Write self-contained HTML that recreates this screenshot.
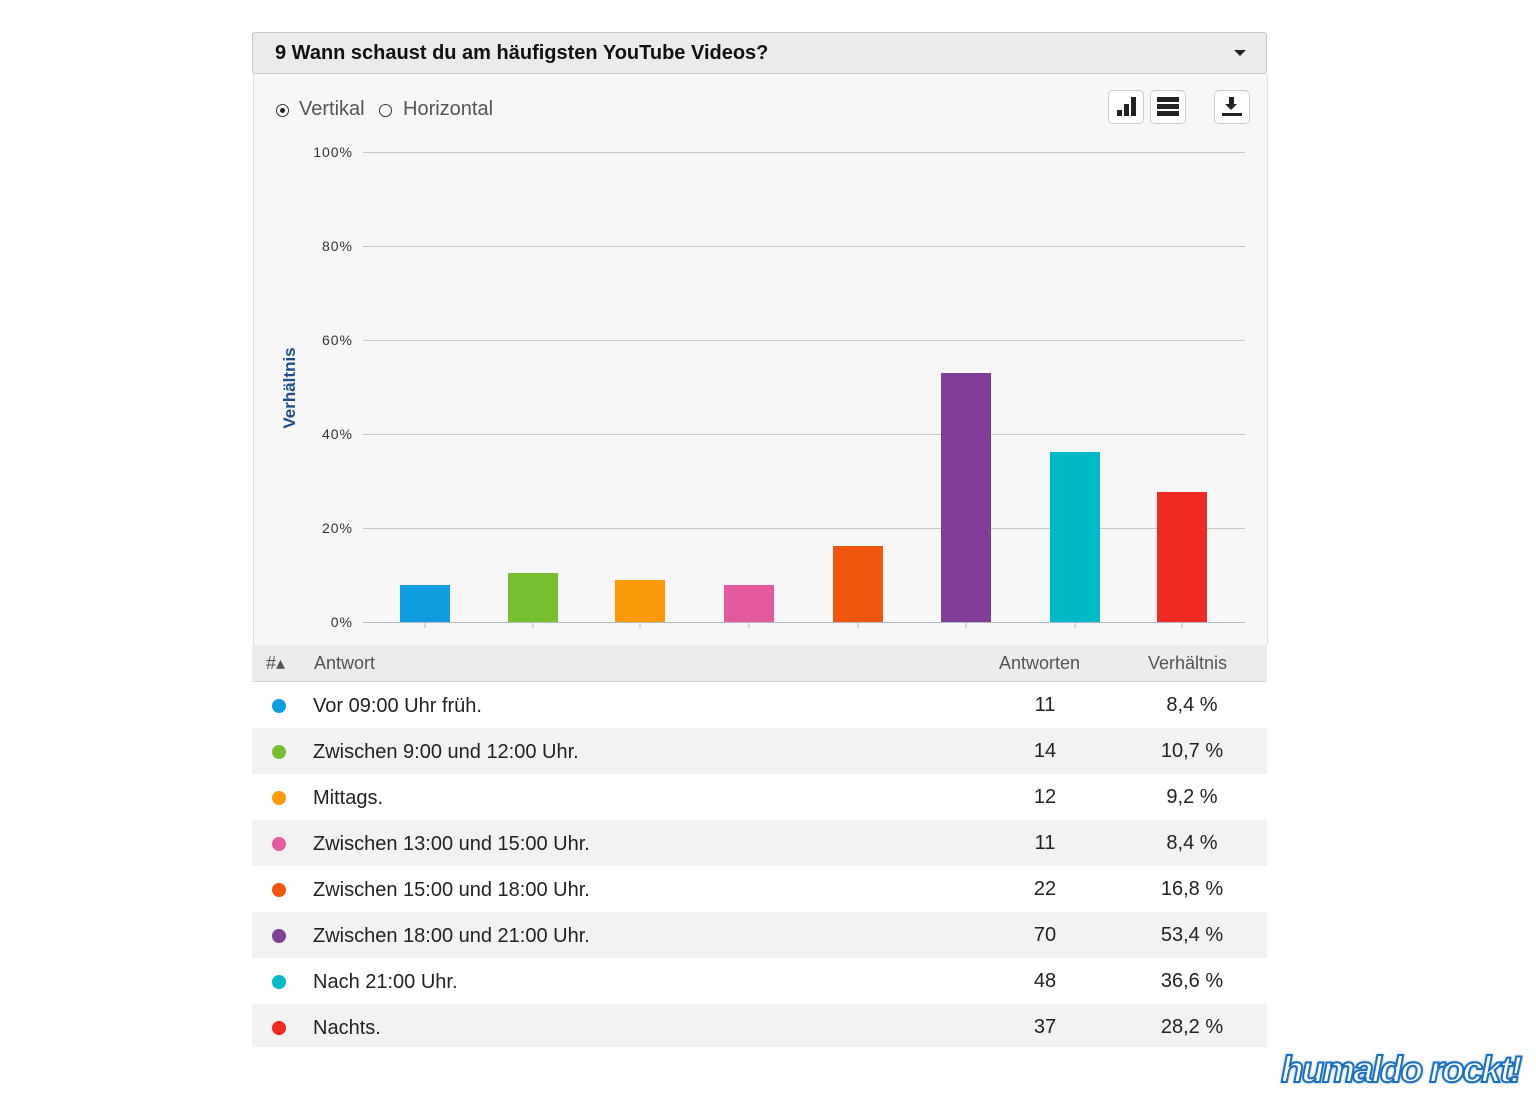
<!DOCTYPE html><html><head><meta charset="utf-8"><style>
body{margin:0;width:1536px;height:1095px;background:#fff;font-family:"Liberation Sans",Arial,sans-serif;position:relative;overflow:hidden}
.a{position:absolute}
.row{position:absolute;left:252px;width:1015px;height:46px;font-size:20px;color:#222}
.row .d{position:absolute;left:20px;top:17px;width:14px;height:14px;border-radius:50%}
.row .t{position:absolute;left:61px;top:13px}
.row .n{position:absolute;left:760px;width:66px;text-align:center;top:12px}
.row .p{position:absolute;left:890px;width:100px;text-align:center;top:12px}
.btn{position:absolute;width:34px;height:32px;border:1px solid #ccc;border-radius:5px;background:#fff}
</style></head><body>
<div class="a" style="left:252px;top:32px;width:1013px;height:40px;background:#ebebeb;border:1px solid #c8c8c8;border-radius:3px"></div>
<div class="a" style="left:275px;top:42px;font-size:20px;font-weight:bold;color:#111">9 Wann schaust du am häufigsten YouTube Videos?</div>
<div class="a" style="left:1234px;top:50px;width:0;height:0;border-left:6px solid transparent;border-right:6px solid transparent;border-top:6px solid #222"></div>
<div class="a" style="left:253px;top:74px;width:1013px;height:571px;background:#f7f7f7;border-right:1px solid #e0e0e0;border-left:1px solid #e0e0e0"></div>
<div class="a" style="left:276px;top:104px;width:11px;height:11px;border:1px solid #333;border-radius:50%;background:#fff"></div>
<div class="a" style="left:280px;top:108px;width:5px;height:5px;border-radius:50%;background:#222"></div>
<div class="a" style="left:299px;top:98px;font-size:20px;color:#555">Vertikal</div>
<div class="a" style="left:379px;top:104px;width:11px;height:11px;border:1px solid #333;border-radius:50%;background:#fff"></div>
<div class="a" style="left:403px;top:98px;font-size:20px;color:#555">Horizontal</div>
<div class="btn" style="left:1108px;top:90px"><div class="a" style="left:8px;top:19px;width:5px;height:6px;background:#222"></div><div class="a" style="left:15px;top:13px;width:5px;height:12px;background:#222"></div><div class="a" style="left:22px;top:6px;width:5px;height:19px;background:#222"></div></div>
<div class="btn" style="left:1150px;top:90px"><div class="a" style="left:6px;top:6px;width:22px;height:5px;background:#222"></div><div class="a" style="left:6px;top:13px;width:22px;height:5px;background:#222"></div><div class="a" style="left:6px;top:20px;width:22px;height:5px;background:#222"></div></div>
<div class="btn" style="left:1214px;top:90px"><div class="a" style="left:14px;top:6px;width:5px;height:8px;background:#222"></div><div class="a" style="left:10px;top:13px;width:0;height:0;border-left:6px solid transparent;border-right:6px solid transparent;border-top:6px solid #222"></div><div class="a" style="left:7px;top:22px;width:20px;height:3px;background:#222"></div></div>
<svg class="a" style="left:0;top:0" width="1536" height="700">
<g stroke="#c8c8c8" stroke-width="1">
<line x1="363" x2="1245" y1="152.5" y2="152.5"/><line x1="363" x2="1245" y1="246.5" y2="246.5"/><line x1="363" x2="1245" y1="340.5" y2="340.5"/><line x1="363" x2="1245" y1="434.5" y2="434.5"/><line x1="363" x2="1245" y1="528.5" y2="528.5"/><line x1="363" x2="1245" y1="622.5" y2="622.5" stroke="#b0b8c8"/>
</g>
<g font-family="Liberation Sans,Arial,sans-serif" font-size="14" fill="#333" text-anchor="end" letter-spacing="1">
<text x="353" y="157">100%</text><text x="353" y="251">80%</text><text x="353" y="345">60%</text><text x="353" y="439">40%</text><text x="353" y="533">20%</text><text x="353" y="627">0%</text></g>
<text transform="translate(295,388) rotate(-90)" text-anchor="middle" font-family="Liberation Sans,Arial,sans-serif" font-size="17" font-weight="bold" fill="#1f4e8c">Verhältnis</text>
<rect x="400" y="585" width="50" height="37" fill="#0e9ee0"/>
<rect x="508" y="573" width="50" height="49" fill="#78be2e"/>
<rect x="615" y="580" width="50" height="42" fill="#fb9b0a"/>
<rect x="724" y="585" width="50" height="37" fill="#e55a9f"/>
<rect x="833" y="546" width="50" height="76" fill="#f0560e"/>
<rect x="941" y="373" width="50" height="249" fill="#7f3f98"/>
<rect x="1050" y="452" width="50" height="170" fill="#00b9c8"/>
<rect x="1157" y="492" width="50" height="130" fill="#ee2a22"/>
<g stroke="#b0b8c8"><line x1="425" x2="425" y1="622" y2="628"/><line x1="533" x2="533" y1="622" y2="628"/><line x1="640" x2="640" y1="622" y2="628"/><line x1="749" x2="749" y1="622" y2="628"/><line x1="858" x2="858" y1="622" y2="628"/><line x1="966" x2="966" y1="622" y2="628"/><line x1="1075" x2="1075" y1="622" y2="628"/><line x1="1182" x2="1182" y1="622" y2="628"/></g>
</svg>
<div class="a" style="left:252px;top:645px;width:1015px;height:36px;background:#ececec;border-bottom:1px solid #d8d8d8;font-size:18px;color:#555">
<span class="a" style="left:14px;top:8px">#▴</span><span class="a" style="left:62px;top:8px">Antwort</span><span class="a" style="left:747px;top:8px">Antworten</span><span class="a" style="left:896px;top:8px">Verhältnis</span></div>
<div class="row" style="top:682px;background:#fff"><div class="d" style="background:#0e9ee0"></div><span class="t">Vor 09:00 Uhr früh.</span><span class="n">11</span><span class="p">8,4 %</span></div>
<div class="row" style="top:728px;background:#f2f2f2"><div class="d" style="background:#78be2e"></div><span class="t">Zwischen 9:00 und 12:00 Uhr.</span><span class="n">14</span><span class="p">10,7 %</span></div>
<div class="row" style="top:774px;background:#fff"><div class="d" style="background:#fb9b0a"></div><span class="t">Mittags.</span><span class="n">12</span><span class="p">9,2 %</span></div>
<div class="row" style="top:820px;background:#f2f2f2"><div class="d" style="background:#e55a9f"></div><span class="t">Zwischen 13:00 und 15:00 Uhr.</span><span class="n">11</span><span class="p">8,4 %</span></div>
<div class="row" style="top:866px;background:#fff"><div class="d" style="background:#f0560e"></div><span class="t">Zwischen 15:00 und 18:00 Uhr.</span><span class="n">22</span><span class="p">16,8 %</span></div>
<div class="row" style="top:912px;background:#f2f2f2"><div class="d" style="background:#7f3f98"></div><span class="t">Zwischen 18:00 und 21:00 Uhr.</span><span class="n">70</span><span class="p">53,4 %</span></div>
<div class="row" style="top:958px;background:#fff"><div class="d" style="background:#00b9c8"></div><span class="t">Nach 21:00 Uhr.</span><span class="n">48</span><span class="p">36,6 %</span></div>
<div class="row" style="top:1004px;background:#f2f2f2;height:43px"><div class="d" style="background:#ee2a22"></div><span class="t">Nachts.</span><span class="n">37</span><span class="p">28,2 %</span></div>
<div class="a" style="left:1281px;top:1049px;white-space:nowrap;font-size:37px;font-weight:bold;font-style:italic;color:#fff;letter-spacing:-2px;-webkit-text-stroke:2px #1a6fc0;text-shadow:0 0 3px #1a6fc0">humaldo rockt!</div>
</body></html>
